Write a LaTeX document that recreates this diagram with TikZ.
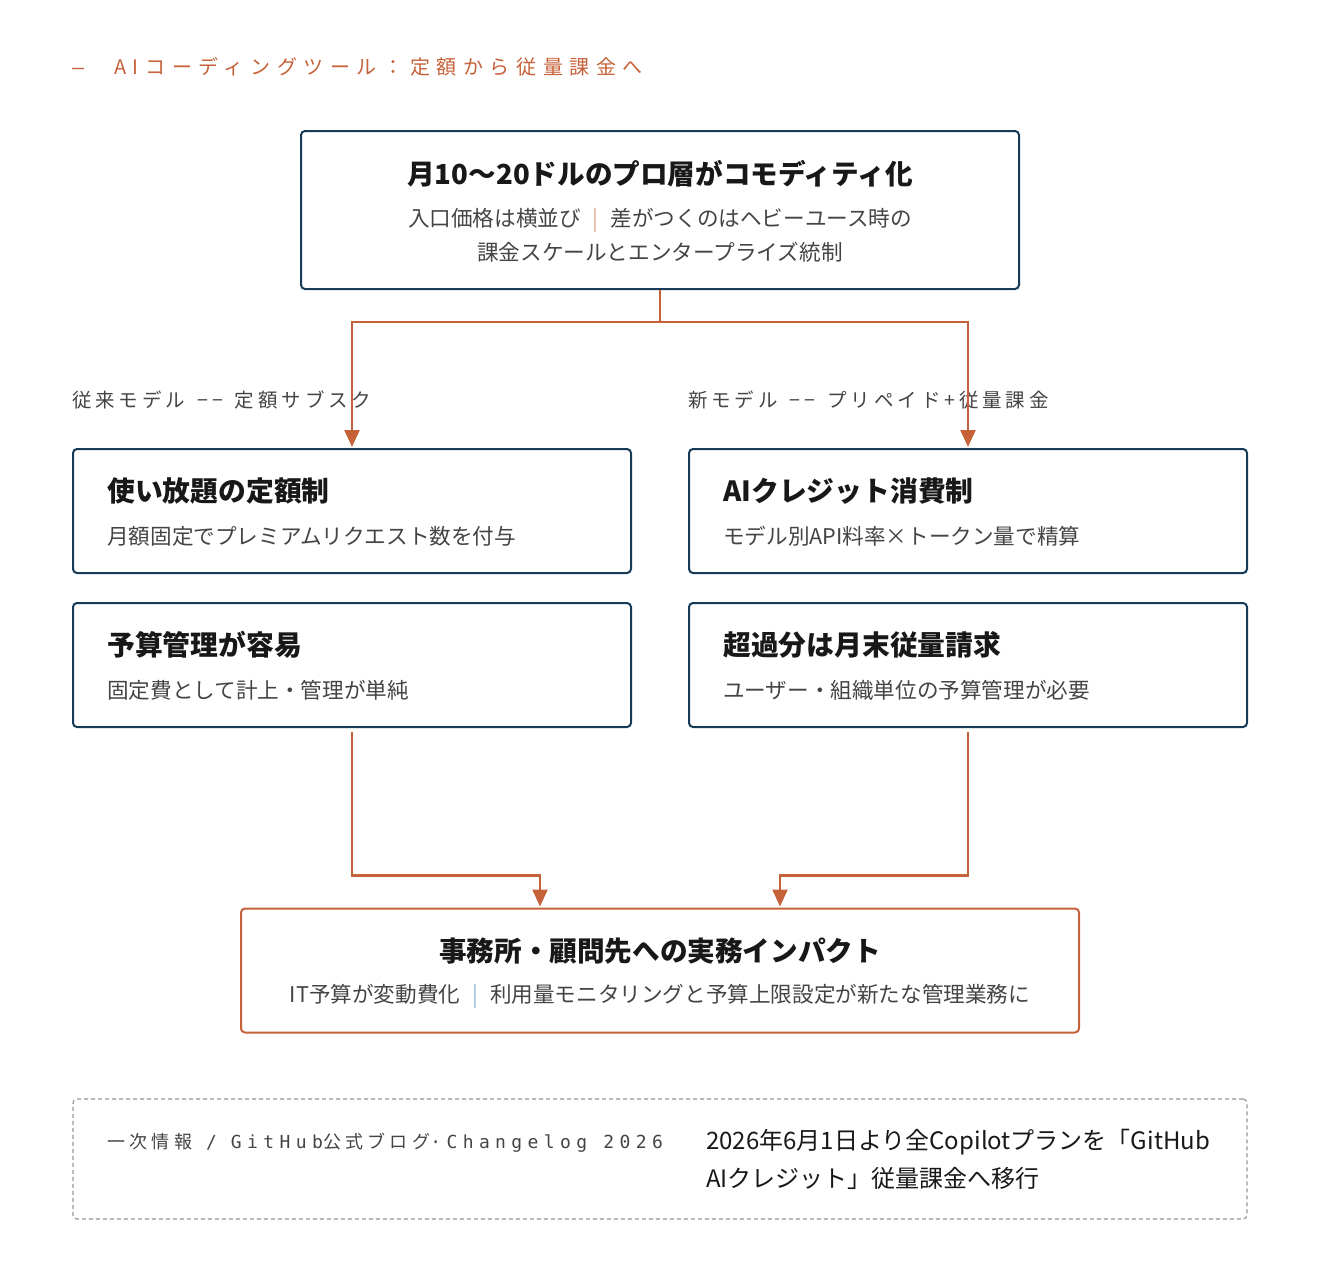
\documentclass[tikz,border=0pt]{standalone}
\usepackage{fontspec}
\setmainfont{Noto Sans CJK JP}
\newfontfamily\codefont{DejaVu Sans Mono}[LetterSpace=30]
\usepackage{xcolor}
\usetikzlibrary{arrows.meta,positioning}
\definecolor{navy}{RGB}{23,58,86}
\definecolor{rust}{RGB}{198,98,58}
\definecolor{inkgray}{RGB}{68,68,68}
\definecolor{ink}{RGB}{24,24,24}
\definecolor{dashgray}{RGB}{150,150,150}
\definecolor{sepO}{RGB}{226,170,140}
\definecolor{sepB}{RGB}{150,185,215}
\newcommand{\sepbar}[1]{\hspace{12pt}\textcolor{#1}{|}\hspace{12pt}}

\begin{document}
\begin{tikzpicture}[x=1pt,y=-1pt,
  card/.style={draw=navy,line width=2pt,rounded corners=4pt,minimum width=558pt,minimum height=124pt,inner sep=0pt},
  headtxt/.style={anchor=west,inner sep=0pt,font=\fontsize{27.8}{32}\selectfont\bfseries,text=ink},
  subtxt/.style={anchor=west,inner sep=0pt,font=\fontsize{21.6}{26}\selectfont,text=inkgray},
  lane/.style={anchor=west,inner sep=0pt,font=\fontsize{19.5}{23}\selectfont\addfontfeatures{LetterSpace=20},text=inkgray},
  conn/.style={draw=rust,line width=2.4pt,-{Triangle[length=17pt,width=15pt]}}]
\useasboundingbox (0,0) rectangle (1320,1280);

% title
\node[anchor=west,inner sep=0pt,text=rust,font=\fontsize{20}{24}\selectfont\addfontfeatures{LetterSpace=33}] (title) at (72,67) {{\codefont –}\hspace{30pt}AIコーディングツール：定額から従量課金へ};

% top
\node[card,minimum width=718pt,minimum height=158pt] (top) at (660,210) {};
\node[inner sep=0pt,font=\fontsize{27.6}{32}\selectfont\bfseries,text=ink] (topH) at (660,174) {月10〜20ドルのプロ層がコモディティ化};
\node[inner sep=0pt,align=center,font=\fontsize{21.6}{34}\selectfont,text=inkgray] (topS) at (660,235)
  {入口価格は横並び\sepbar{sepO}差がつくのはヘビーユース時の\\課金スケールとエンタープライズ統制};

% lanes
\node[lane] (laneL) at (72,400) {従来モデル\hspace{12pt}−−\hspace{12pt}定額サブスク};
\node[lane] (laneR) at (688,400) {新モデル\hspace{12pt}−−\hspace{12pt}プリペイド+従量課金};

% cards
\node[card] (flat) at (352,511) {};
\node[headtxt] (flatH) at (107,491) {使い放題の定額制};
\node[subtxt] (flatS) at (107,536) {月額固定でプレミアムリクエスト数を付与};
\node[card] (budget) at (352,665) {};
\node[headtxt] (budgetH) at (107,645) {予算管理が容易};
\node[subtxt] (budgetS) at (107,690) {固定費として計上・管理が単純};
\node[card] (credit) at (968,511) {};
\node[headtxt] (creditH) at (723,491) {AIクレジット消費制};
\node[subtxt] (creditS) at (723,536) {モデル別API料率×トークン量で精算};
\node[card] (over) at (968,665) {};
\node[headtxt] (overH) at (723,645) {超過分は月末従量請求};
\node[subtxt] (overS) at (723,690) {ユーザー・組織単位の予算管理が必要};

% impact
\node[card,draw=rust,minimum width=838pt] (impact) at (660,970.5) {};
\node[inner sep=0pt,font=\fontsize{27.6}{32}\selectfont\bfseries,text=ink] (impactH) at (660,951) {事務所・顧問先への実務インパクト};
\node[inner sep=0pt,font=\fontsize{21.6}{26}\selectfont,text=inkgray] (impactS) at (660,996)
  {IT予算が変動費化\sepbar{sepB}利用量モニタリングと予算上限設定が新たな管理業務に};

% source
\node[draw=dashgray,line width=1.2pt,dash pattern=on 4pt off 3pt,rounded corners=4pt,minimum width=1174pt,minimum height=120pt] (src) at (660,1159) {};
\node[anchor=west,inner sep=0pt,text=inkgray,font=\fontsize{18}{22}\selectfont\addfontfeatures{LetterSpace=24}] (srcL) at (107,1143)
  {一次情報\hspace{14pt}{\codefont /}\hspace{14pt}{\codefont GitHub}公式ブログ{\codefont ·Changelog 2026}};
\node[anchor=north west,inner sep=0pt,align=left,text=ink,font=\fontsize{24}{38}\selectfont] (srcR) at (706,1129) {2026年6月1日より全Copilotプランを「GitHub\\AIクレジット」従量課金へ移行};

% connectors
\coordinate (split) at (660,322);
\draw[conn] (top.south) -- (split) -| ([yshift=1pt]flat.north);
\draw[conn] (split) -| ([yshift=1pt]credit.north);
\draw[conn] ([yshift=-4pt]budget.south) |- ([xshift=-120pt,yshift=32pt]impact.north) -- ([xshift=-120pt,yshift=1pt]impact.north);
\draw[conn] ([yshift=-4pt]over.south) |- ([xshift=120pt,yshift=32pt]impact.north) -- ([xshift=120pt,yshift=1pt]impact.north);
\end{tikzpicture}
\end{document}
